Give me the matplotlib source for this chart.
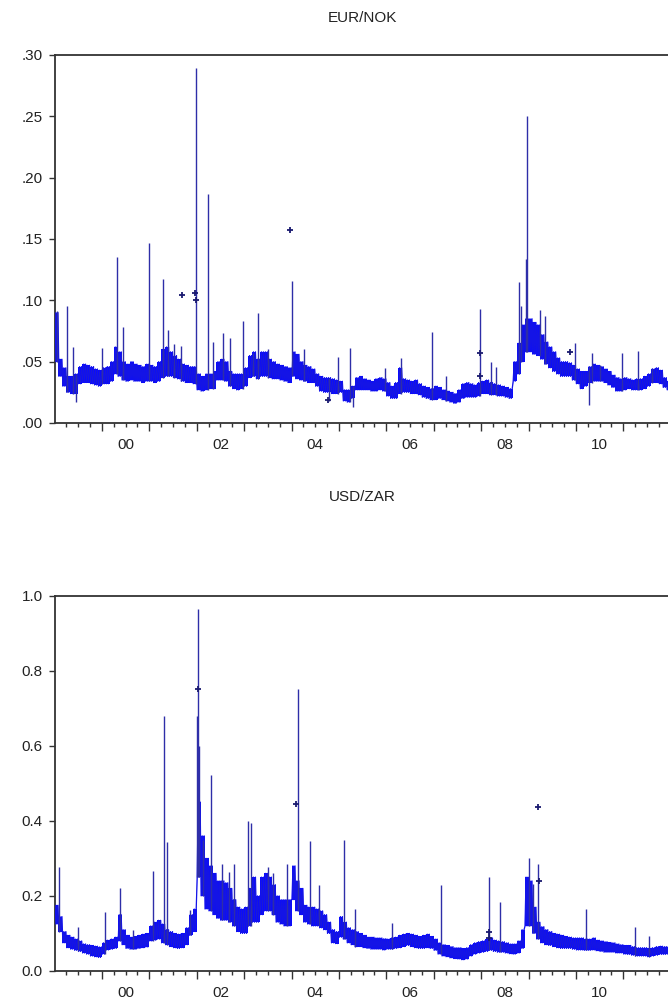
import numpy as np
import matplotlib
matplotlib.use('Agg')
import matplotlib.pyplot as plt
import matplotlib.transforms as mtransforms

plt.rcParams['font.family'] = ['Liberation Sans Narrow', 'Liberation Sans', 'DejaVu Sans']

# ---------------- data (monthly low / high envelope) ----------------
start_year = 1999
nok_lo = [
    0.050, 0.038, 0.030, 0.025, 0.024, 0.024, 0.032, 0.033, 0.033, 0.032, 0.031, 0.030,  # 1999
    0.032, 0.032, 0.034, 0.040, 0.038, 0.035, 0.034, 0.035, 0.034, 0.034, 0.033, 0.034,  # 2000
    0.034, 0.033, 0.034, 0.037, 0.038, 0.038, 0.037, 0.036, 0.034, 0.033, 0.033, 0.032,  # 2001
    0.027, 0.026, 0.027, 0.028, 0.028, 0.035, 0.035, 0.034, 0.030, 0.028, 0.027, 0.028,  # 2002
    0.030, 0.037, 0.038, 0.036, 0.038, 0.038, 0.037, 0.036, 0.036, 0.035, 0.034, 0.033,  # 2003
    0.038, 0.036, 0.035, 0.034, 0.033, 0.033, 0.030, 0.026, 0.025, 0.025, 0.024, 0.024,  # 2004
    0.025, 0.018, 0.017, 0.020, 0.027, 0.027, 0.027, 0.027, 0.026, 0.026, 0.027, 0.026,  # 2005
    0.022, 0.020, 0.020, 0.024, 0.025, 0.025, 0.024, 0.024, 0.023, 0.021, 0.020, 0.019,  # 2006
    0.019, 0.020, 0.019, 0.018, 0.017, 0.016, 0.017, 0.020, 0.021, 0.021, 0.021, 0.022,  # 2007
    0.024, 0.024, 0.023, 0.023, 0.022, 0.022, 0.021, 0.020, 0.034, 0.040, 0.050, 0.058,  # 2008
    0.058, 0.056, 0.055, 0.052, 0.048, 0.045, 0.042, 0.040, 0.038, 0.038, 0.038, 0.035,  # 2009
    0.032, 0.028, 0.030, 0.033, 0.034, 0.034, 0.034, 0.033, 0.031, 0.029, 0.026, 0.026,  # 2010
    0.027, 0.028, 0.027, 0.027, 0.027, 0.028, 0.030, 0.033, 0.033, 0.032, 0.029, 0.027,  # 2011
]
nok_hi = [
    0.090, 0.052, 0.045, 0.038, 0.038, 0.040, 0.046, 0.048, 0.047, 0.046, 0.044, 0.043,
    0.045, 0.046, 0.050, 0.062, 0.058, 0.050, 0.048, 0.050, 0.048, 0.047, 0.046, 0.048,
    0.047, 0.046, 0.050, 0.060, 0.062, 0.058, 0.055, 0.052, 0.048, 0.047, 0.046, 0.046,
    0.040, 0.038, 0.040, 0.040, 0.042, 0.050, 0.052, 0.050, 0.042, 0.040, 0.040, 0.040,
    0.045, 0.055, 0.058, 0.052, 0.058, 0.058, 0.052, 0.050, 0.048, 0.047, 0.046, 0.045,
    0.058, 0.056, 0.050, 0.047, 0.046, 0.044, 0.040, 0.038, 0.037, 0.037, 0.036, 0.035,
    0.034, 0.027, 0.027, 0.030, 0.037, 0.038, 0.036, 0.035, 0.034, 0.036, 0.037, 0.036,
    0.033, 0.030, 0.033, 0.045, 0.036, 0.035, 0.034, 0.035, 0.032, 0.030, 0.029, 0.028,
    0.030, 0.029, 0.027, 0.026, 0.025, 0.024, 0.027, 0.032, 0.033, 0.032, 0.031, 0.033,
    0.034, 0.035, 0.033, 0.032, 0.031, 0.030, 0.029, 0.028, 0.050, 0.065, 0.080, 0.085,
    0.085, 0.082, 0.080, 0.072, 0.066, 0.062, 0.058, 0.053, 0.050, 0.050, 0.049, 0.047,
    0.044, 0.042, 0.042, 0.046, 0.048, 0.047, 0.046, 0.044, 0.042, 0.039, 0.037, 0.036,
    0.037, 0.036, 0.035, 0.036, 0.036, 0.038, 0.040, 0.044, 0.045, 0.043, 0.037, 0.034,
]
zar_lo = [
    0.125, 0.105, 0.075, 0.062, 0.058, 0.055, 0.052, 0.048, 0.045, 0.040, 0.038, 0.036,  # 1999
    0.045, 0.056, 0.058, 0.060, 0.080, 0.070, 0.060, 0.058, 0.058, 0.060, 0.062, 0.064,  # 2000
    0.080, 0.082, 0.085, 0.075, 0.070, 0.065, 0.062, 0.060, 0.062, 0.070, 0.095, 0.105,  # 2001
    0.250, 0.200, 0.165, 0.160, 0.150, 0.140, 0.135, 0.135, 0.130, 0.120, 0.105, 0.100,  # 2002
    0.100, 0.120, 0.130, 0.130, 0.150, 0.160, 0.160, 0.150, 0.130, 0.125, 0.120, 0.120,  # 2003
    0.190, 0.160, 0.150, 0.130, 0.125, 0.120, 0.120, 0.115, 0.110, 0.100, 0.075, 0.073,  # 2004
    0.090, 0.085, 0.075, 0.070, 0.065, 0.065, 0.062, 0.060, 0.058, 0.058, 0.058, 0.056,  # 2005
    0.058, 0.058, 0.060, 0.062, 0.065, 0.068, 0.065, 0.062, 0.060, 0.060, 0.062, 0.060,  # 2006
    0.055, 0.045, 0.040, 0.038, 0.035, 0.033, 0.032, 0.030, 0.032, 0.040, 0.045, 0.048,  # 2007
    0.050, 0.052, 0.055, 0.052, 0.050, 0.050, 0.048, 0.046, 0.045, 0.048, 0.060, 0.120,  # 2008
    0.120, 0.100, 0.085, 0.075, 0.070, 0.068, 0.065, 0.062, 0.060, 0.060, 0.060, 0.058,  # 2009
    0.056, 0.056, 0.055, 0.055, 0.056, 0.054, 0.052, 0.050, 0.050, 0.050, 0.048, 0.048,  # 2010
    0.045, 0.044, 0.042, 0.040, 0.040, 0.040, 0.038, 0.040, 0.042, 0.044, 0.044, 0.045,  # 2011
]
zar_hi = [
    0.175, 0.145, 0.105, 0.095, 0.090, 0.085, 0.080, 0.072, 0.070, 0.068, 0.066, 0.064,
    0.075, 0.082, 0.085, 0.090, 0.150, 0.110, 0.095, 0.090, 0.092, 0.095, 0.098, 0.100,
    0.120, 0.130, 0.135, 0.125, 0.110, 0.105, 0.100, 0.098, 0.100, 0.115, 0.150, 0.165,
    0.450, 0.360, 0.300, 0.280, 0.260, 0.240, 0.240, 0.235, 0.220, 0.190, 0.170, 0.165,
    0.170, 0.220, 0.250, 0.200, 0.250, 0.260, 0.250, 0.230, 0.200, 0.190, 0.190, 0.190,
    0.280, 0.240, 0.220, 0.175, 0.170, 0.170, 0.165, 0.160, 0.150, 0.130, 0.110, 0.105,
    0.145, 0.130, 0.115, 0.110, 0.105, 0.100, 0.095, 0.090, 0.090, 0.088, 0.088, 0.086,
    0.085, 0.088, 0.090, 0.095, 0.098, 0.100, 0.098, 0.095, 0.092, 0.095, 0.098, 0.092,
    0.085, 0.075, 0.070, 0.068, 0.065, 0.062, 0.062, 0.060, 0.062, 0.070, 0.075, 0.078,
    0.080, 0.085, 0.088, 0.082, 0.080, 0.078, 0.075, 0.072, 0.072, 0.080, 0.110, 0.250,
    0.240, 0.170, 0.130, 0.118, 0.110, 0.105, 0.100, 0.098, 0.095, 0.092, 0.090, 0.088,
    0.088, 0.088, 0.085, 0.085, 0.088, 0.082, 0.080, 0.078, 0.076, 0.075, 0.072, 0.070,
    0.068, 0.068, 0.065, 0.062, 0.062, 0.062, 0.060, 0.062, 0.065, 0.066, 0.065, 0.065,
]

# isolated spikes (date, peak value)
nok_spike_t = [1999.05, 1999.27, 1999.38, 2000.00, 2000.31, 2000.44, 2001.00, 2001.28, 2001.40,
               2001.52, 2001.67, 2001.98, 2002.24, 2002.35, 2002.56, 2002.70, 2002.97, 2003.19,
               2003.30, 2003.51, 2004.02, 2004.26, 2004.99, 2005.23, 2005.97, 2006.30, 2006.97,
               2007.25, 2007.98, 2008.20, 2008.31, 2008.81, 2008.84, 2008.96, 2008.95, 2009.24,
               2009.35, 2009.98, 2010.33, 2010.51, 2010.98, 2011.32, 2011.60]
nok_spike_v = [0.091, 0.095, 0.062, 0.061, 0.135, 0.078, 0.147, 0.117, 0.076,
               0.064, 0.063, 0.289, 0.187, 0.066, 0.073, 0.069, 0.083, 0.057,
               0.090, 0.060, 0.116, 0.060, 0.054, 0.061, 0.045, 0.053, 0.074,
               0.038, 0.093, 0.050, 0.046, 0.115, 0.095, 0.250, 0.134, 0.092,
               0.087, 0.065, 0.057, 0.047, 0.057, 0.059, 0.045]
nok_dip_t = [1999.45, 2004.80, 2005.30, 2010.27]
nok_dip_v = [0.017, 0.018, 0.013, 0.015]
nok_pts_t = [2001.70, 2001.97, 2001.99, 2003.97, 2004.76, 2007.98, 2007.98, 2009.88]
nok_pts_v = [0.104, 0.106, 0.100, 0.157, 0.019, 0.057, 0.038, 0.058]

zar_spike_t = [1999.09, 1999.50, 2000.07, 2000.38, 2000.66, 2001.07, 2001.31, 2001.37, 2001.86,
               2002.01, 2002.03, 2002.05, 2002.13, 2002.30, 2002.53, 2002.68, 2002.79, 2003.09,
               2003.15, 2003.51, 2003.62, 2003.90, 2004.13, 2004.39, 2004.57, 2005.11, 2005.35,
               2006.13, 2007.15, 2008.17, 2008.40, 2009.02, 2009.10, 2009.19, 2010.21, 2011.25,
               2011.55]
zar_spike_v = [0.277, 0.118, 0.156, 0.222, 0.109, 0.266, 0.680, 0.344, 0.162,
               0.680, 0.965, 0.600, 0.350, 0.521, 0.284, 0.264, 0.284, 0.399,
               0.393, 0.277, 0.260, 0.286, 0.750, 0.346, 0.229, 0.350, 0.166,
               0.127, 0.229, 0.250, 0.184, 0.302, 0.233, 0.284, 0.164, 0.116,
               0.093]
zar_pts_t = [2002.03, 2004.09, 2008.17, 2008.17, 2009.19, 2009.23]
zar_pts_v = [0.750, 0.445, 0.104, 0.087, 0.437, 0.240]

nok_yticks = [0.00, 0.05, 0.10, 0.15, 0.20, 0.25, 0.30]
nok_ylabels = ['.00', '.05', '.10', '.15', '.20', '.25', '.30']
zar_yticks = [0.0, 0.2, 0.4, 0.6, 0.8, 1.0]
zar_ylabels = ['0.0', '0.2', '0.4', '0.6', '0.8', '1.0']
year_labels = ['00', '02', '04', '06', '08', '10']
label_years = [2000, 2002, 2004, 2006, 2008, 2010]

# ---------------- figure ----------------
W, H = 668, 1007
fig = plt.figure(figsize=(W / 100, H / 100), dpi=100)


def rect(l, t, r, b):
    return [l / W, 1 - b / H, (r - l) / W, (b - t) / H]


left_px = 54.5
right_px = left_px + 13 * 47.4
ax1 = fig.add_axes(rect(left_px, 55, right_px, 423))
ax2 = fig.add_axes(rect(left_px, 595.5, right_px, 971))

BAND = '#0a0aff'
SPIKE = '#2e2ea8'
MARK = '#1a1a70'


def draw(ax, lo, hi, sp_t, sp_v, pts_t, pts_v, dip_t=None, dip_v=None):
    lo = np.asarray(lo)
    hi = np.asarray(hi)
    n = len(lo)
    months = start_year + np.arange(n) / 12.0
    # solid envelope
    edges = np.append(months, months[-1] + 1 / 12.0)
    ax.fill_between(edges, np.append(lo, lo[-1]), np.append(hi, hi[-1]),
                    step='post', color=BAND, lw=0, zorder=2)
    # jagged daily-like texture: alternate low / high inside each month
    xs = np.empty(4 * n)
    ys = np.empty(4 * n)
    xs[0::4] = months + 0.5 / 48
    xs[1::4] = months + 1.5 / 48
    xs[2::4] = months + 2.5 / 48
    xs[3::4] = months + 3.5 / 48
    ys[0::4] = lo
    ys[1::4] = hi
    ys[2::4] = lo
    ys[3::4] = hi
    ax.plot(xs, ys, color=BAND, lw=0.9, zorder=3)
    ax.plot(xs, ys, color=SPIKE, lw=0.4, alpha=0.5, zorder=3)
    # spikes from the band
    sp_t = np.asarray(sp_t)
    idx = np.clip(((sp_t - start_year) * 12).astype(int), 0, n - 1)
    ax.vlines(sp_t, lo[idx], sp_v, color=SPIKE, lw=1.0, zorder=4)
    if dip_t is not None:
        dip_t = np.asarray(dip_t)
        idx = np.clip(((dip_t - start_year) * 12).astype(int), 0, n - 1)
        ax.vlines(dip_t, dip_v, hi[idx], color=SPIKE, lw=1.0, zorder=4)
    ax.plot(pts_t, pts_v, linestyle='none', marker='+', ms=4, mew=1.3,
            color=MARK, zorder=5)


draw(ax1, nok_lo, nok_hi, nok_spike_t, nok_spike_v, nok_pts_t, nok_pts_v, nok_dip_t, nok_dip_v)
draw(ax2, zar_lo, zar_hi, zar_spike_t, zar_spike_v, zar_pts_t, zar_pts_v)

for ax, yt, yl, title, ttop in [(ax1, nok_yticks, nok_ylabels, 'EUR/NOK', 18),
                                (ax2, zar_yticks, zar_ylabels, 'USD/ZAR', 497)]:
    ax.set_xlim(1999, 2012)
    ax.set_ylim(yt[0], yt[-1])
    ax.set_yticks(yt)
    ax.set_yticklabels(yl, fontsize=11)
    ax.set_xticks(np.arange(2000, 2012))
    ax.set_xticks([y + q / 4 for y in range(1999, 2012) for q in (1, 2, 3)], minor=True)
    ax.tick_params(axis='x', which='major', direction='out', length=5.5, width=1.0,
                   labelbottom=False, color='#333333')
    ax.tick_params(axis='x', which='minor', direction='out', length=3.0, width=1.0,
                   color='#333333')
    ax.tick_params(axis='y', which='major', direction='out', length=4, width=1.0,
                   pad=4.5, color='#333333', labelcolor='#222222')
    for s in ax.spines.values():
        s.set_color('#333333')
        s.set_linewidth(1.3)
    trans = ax.get_xaxis_transform() + mtransforms.ScaledTranslation(0, -22 / 100, fig.dpi_scale_trans)
    for yr, lab in zip(label_years, year_labels):
        ax.text(yr + 0.5, 0, lab, transform=trans, ha='center', va='center',
                fontsize=11, color='#222222')
    fig.text((left_px + right_px) / 2 / W, 1 - ttop / H, title, ha='center', va='center',
             fontsize=11, color='#222222')

fig.savefig('out.png', dpi=100)
